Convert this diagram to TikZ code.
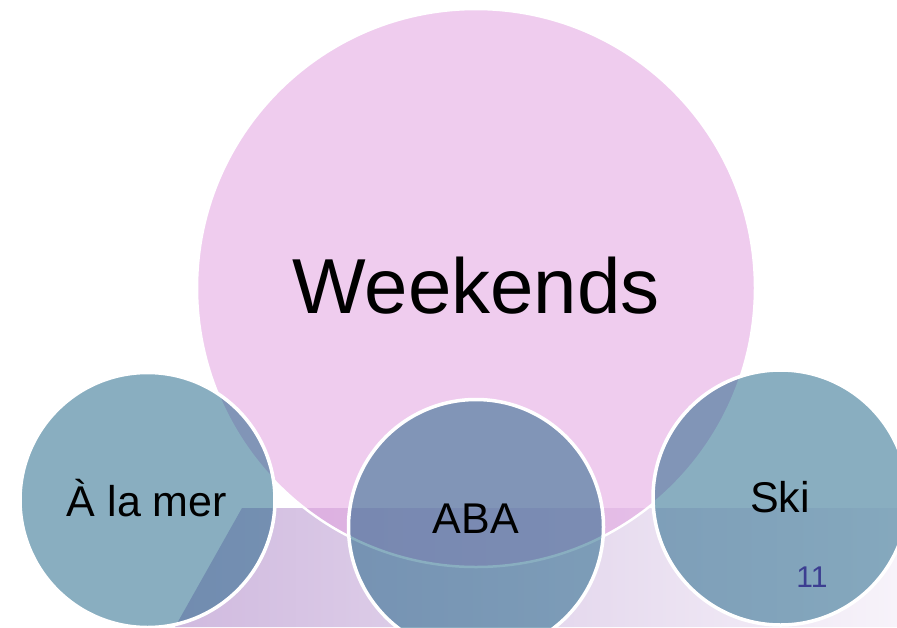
\documentclass[tikz,border=0pt]{standalone}
\usepackage{fontspec}
\setmainfont{Liberation Sans}
\definecolor{bigpink}{RGB}{226,160,223}
\definecolor{smallblue}{RGB}{20,95,130}
\definecolor{bandL}{RGB}{208,186,223}
\definecolor{bandR}{RGB}{247,243,250}
\definecolor{numblue}{RGB}{60,62,145}
\begin{document}
\begin{tikzpicture}[x=1pt,y=-1pt,
  bigcirc/.style={circle, minimum size=558pt, fill=bigpink, fill opacity=0.53, text opacity=1, draw=white, line width=2.5pt, inner sep=0pt},
  smallcirc/.style={circle, minimum size=255pt, fill=smallblue, fill opacity=0.5, text opacity=1, draw=white, line width=3.5pt, inner sep=0pt},
  lbl/.style={font=\fontsize{43}{50}\selectfont}]
\useasboundingbox (0,0) rectangle (897,627);
\clip (0,0) rectangle (897,627);
\fill[white] (0,0) rectangle (897,627);
\shade[left color=bandL, right color=bandR] (242,508) -- (897,508) -- (897,627) -- (175,627) -- cycle;
\node[bigcirc] (big) at (476,288) {};
\node[font=\fontsize{78}{90}\selectfont] (wk) at (476,286) {Weekends};
\node[smallcirc] (mer) at (147.5,500) {};
\node[smallcirc] (aba) at (476,527) {};
\node[smallcirc] (ski) at (780.5,497.5) {};
\node[lbl] (merT) at (147,498) {À la mer};
\node[lbl] (abaT) at (476,519) {ABA};
\node[lbl] (skiT) at (780,497) {Ski};
\node[font=\fontsize{30}{34}\selectfont, text=numblue] (num) at (812,577) {11};
\end{tikzpicture}
\end{document}
